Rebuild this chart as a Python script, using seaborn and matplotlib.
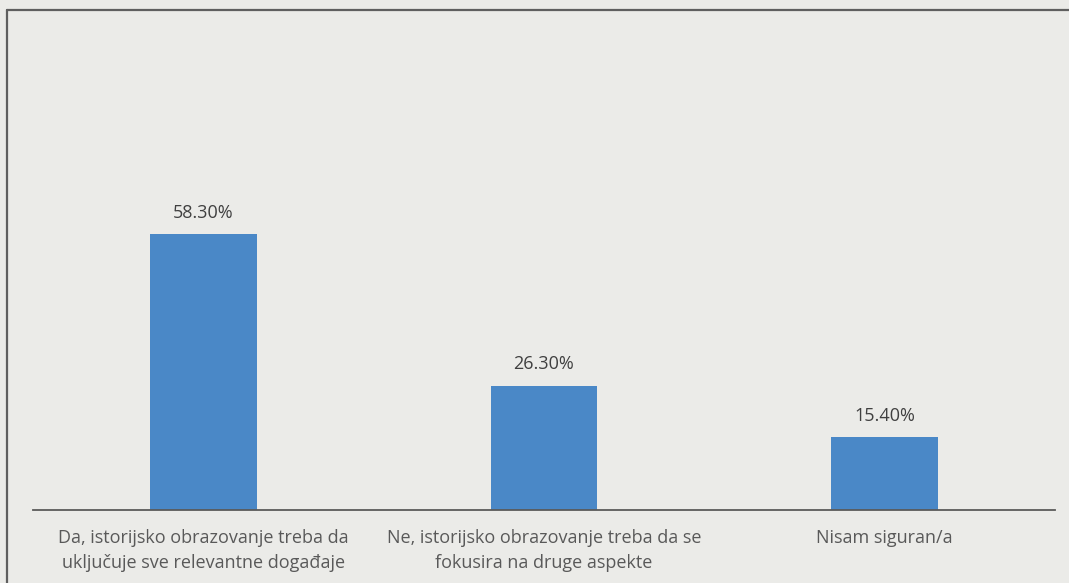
import matplotlib
matplotlib.use('Agg')
import matplotlib.pyplot as plt
import seaborn as sns
from matplotlib.lines import Line2D

# Data
categories = [
    'Da, istorijsko obrazovanje treba da\nuključuje sve relevantne događaje',
    'Ne, istorijsko obrazovanje treba da se\nfokusira na druge aspekte',
    'Nisam siguran/a',
]
values = [58.3, 26.3, 15.4]

bg = '#ebebe8'
bar_color = '#4a88c7'

sns.set_theme(style='white')
plt.rcParams['font.family'] = ['Open Sans', 'DejaVu Sans']

W, H = 1069, 583
fig = plt.figure(figsize=(W / 100, H / 100), dpi=100, facecolor=bg)

# axes placed in pixel terms: x 33..1055, baseline at y=510
ax = fig.add_axes([33 / W, (H - 510) / H, 1022 / W, 331 / H])
ax.set_facecolor('none')

sns.barplot(x=categories, y=values, color=bar_color, saturation=1, width=0.314,
            linewidth=0, ax=ax)

ax.set_xlim(-0.5, 2.5)
ax.set_ylim(0, 70)
ax.set_yticks([])
ax.set_xlabel('')
ax.set_ylabel('')
for s in ['top', 'left', 'right']:
    ax.spines[s].set_visible(False)
ax.spines['bottom'].set_color('#5a5a5a')
ax.spines['bottom'].set_linewidth(1.3)
ax.tick_params(axis='x', length=0, pad=14, labelsize=13, labelcolor='#595959')
for lbl in ax.get_xticklabels():
    lbl.set_linespacing(1.5)

ax.bar_label(ax.containers[0], labels=['%.2f%%' % v for v in values],
             padding=9, fontsize=13, color='#404040')

# frame line on the left and top of the picture
fig.add_artist(Line2D([7 / W, 7 / W], [0, 1 - 10 / H], color='#5f5f5f', lw=1.6,
                      transform=fig.transFigure))
fig.add_artist(Line2D([7 / W, 1], [1 - 10 / H, 1 - 10 / H], color='#5f5f5f', lw=1.6,
                      transform=fig.transFigure))

plt.savefig('out.png', dpi=100, facecolor=bg)
